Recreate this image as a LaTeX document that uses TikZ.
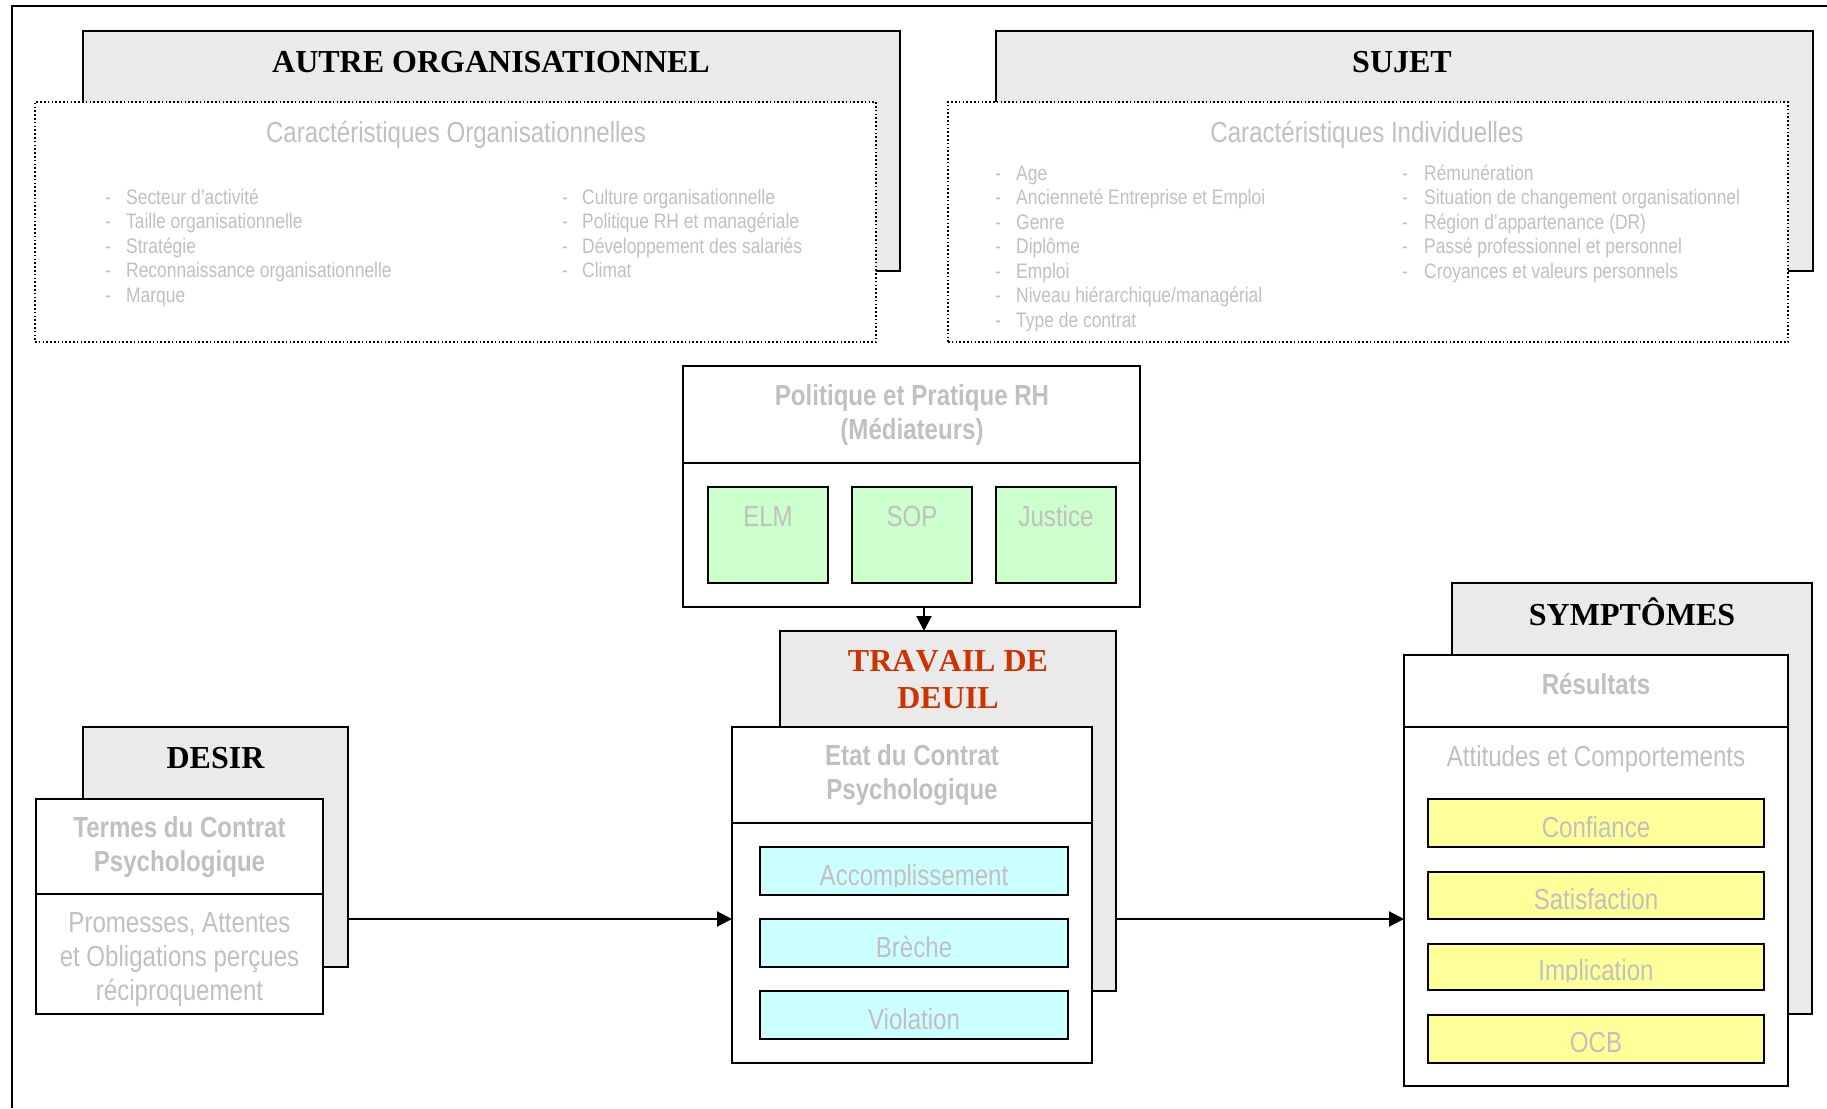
\documentclass[tikz,border=0pt]{standalone}
\usepackage{fontspec}
\setmainfont{Liberation Serif}
\newfontfamily\nar[FakeStretch=0.83]{Liberation Sans}
\usetikzlibrary{arrows.meta,fit}
\definecolor{txtgray}{RGB}{192,192,192}
\definecolor{boxgray}{RGB}{234,234,234}
\definecolor{grn}{RGB}{204,255,204}
\definecolor{cyn}{RGB}{204,255,255}
\definecolor{ylw}{RGB}{255,255,153}
\definecolor{deuil}{RGB}{204,51,0}
\begin{document}
\begin{tikzpicture}[x=1pt,y=-1pt,
  box/.style={draw=black,line width=2.2pt,inner sep=0pt,outer sep=0pt},
  graybox/.style={box,fill=boxgray},
  whitebox/.style={box,fill=white},
  dotbox/.style={draw=black,line width=1.5pt,dash pattern=on 1.6pt off 2.2pt,fill=white,inner sep=0pt,outer sep=0pt},
  sep/.style={draw=black,line width=2.2pt},
  arr/.style={draw=black,line width=2pt,-{Triangle[length=15pt,width=15pt]}},
  tt/.style={font=\bfseries\fontsize{32}{38}\selectfont,anchor=base,inner sep=0pt},
  gt/.style={text=txtgray,font=\nar\fontsize{29}{34}\selectfont,anchor=base,inner sep=0pt},
  gb/.style={text=txtgray,font=\nar\bfseries\fontsize{29}{34}\selectfont,anchor=base,inner sep=0pt},
  li/.style={text=txtgray,font=\nar\fontsize{21}{24.5}\selectfont,anchor=base west,inner sep=0pt}
]
\useasboundingbox (0,0) rectangle (1827,1108);
% outer frame
\coordinate (ftr) at (1827,6.5);
\coordinate (ftl) at (11.5,6.5);
\coordinate (fbl) at (11.5,1108);
\draw[line width=2pt] (ftr) -- (ftl) -- (fbl);

% ---------- AUTRE ORGANISATIONNEL ----------
\node[graybox,fit={(83,31)(900,271)}] (aog) {};
\node[dotbox,fit={(35,102)(876,342)}] (aod) {};
\node[tt] (aot) at (491,72) {AUTRE ORGANISATIONNEL};
\node[gt] (aos) at (456,142) {Caractéristiques Organisationnelles};
\node[li] (aoa1) at (105,204) {-};   \node[li] (aob1) at (126,204) {Secteur d’activité};
\node[li] (aoa2) at (105,228.5) {-}; \node[li] (aob2) at (126,228.5) {Taille organisationnelle};
\node[li] (aoa3) at (105,253) {-};   \node[li] (aob3) at (126,253) {Stratégie};
\node[li] (aoa4) at (105,277.5) {-}; \node[li] (aob4) at (126,277.5) {Reconnaissance organisationnelle};
\node[li] (aoa5) at (105,302) {-};   \node[li] (aob5) at (126,302) {Marque};
\node[li] (aoc1) at (562,204) {-};   \node[li] (aod1) at (582,204) {Culture organisationnelle};
\node[li] (aoc2) at (562,228.5) {-}; \node[li] (aod2) at (582,228.5) {Politique RH et managériale};
\node[li] (aoc3) at (562,253) {-};   \node[li] (aod3) at (582,253) {Développement des salariés};
\node[li] (aoc4) at (562,277.5) {-}; \node[li] (aod4) at (582,277.5) {Climat};

% ---------- SUJET ----------
\node[graybox,fit={(996,31)(1813,271)}] (sjg) {};
\node[dotbox,fit={(948,102)(1788,342)}] (sjd) {};
\node[tt] (sjt) at (1402,72) {SUJET};
\node[gt] (sjs) at (1367,142) {Caractéristiques Individuelles};
\node[li] (sja1) at (995,180) {-};   \node[li] (sjb1) at (1016,180) {Age};
\node[li] (sja2) at (995,204.5) {-}; \node[li] (sjb2) at (1016,204.5) {Ancienneté Entreprise et Emploi};
\node[li] (sja3) at (995,229) {-};   \node[li] (sjb3) at (1016,229) {Genre};
\node[li] (sja4) at (995,253.5) {-}; \node[li] (sjb4) at (1016,253.5) {Diplôme};
\node[li] (sja5) at (995,278) {-};   \node[li] (sjb5) at (1016,278) {Emploi};
\node[li] (sja6) at (995,302.5) {-}; \node[li] (sjb6) at (1016,302.5) {Niveau hiérarchique/managérial};
\node[li] (sja7) at (995,327) {-};   \node[li] (sjb7) at (1016,327) {Type de contrat};
\node[li] (sjc1) at (1402,180) {-};   \node[li] (sjd1) at (1424,180) {Rémunération};
\node[li] (sjc2) at (1402,204.5) {-}; \node[li] (sjd2) at (1424,204.5) {Situation de changement organisationnel};
\node[li] (sjc3) at (1402,229) {-};   \node[li] (sjd3) at (1424,229) {Région d’appartenance (DR)};
\node[li] (sjc4) at (1402,253.5) {-}; \node[li] (sjd4) at (1424,253.5) {Passé professionnel et personnel};
\node[li] (sjc5) at (1402,278) {-};   \node[li] (sjd5) at (1424,278) {Croyances et valeurs personnels};

% ---------- POLITIQUE ----------
\node[whitebox,fit={(683,366)(1140,607)}] (pol) {};
\coordinate (py) at (0,463);
\draw[sep] (pol.west |- py) -- (pol.east |- py);
\node[gb] (pol1) at (912,405) {Politique et Pratique RH};
\node[gb] (pol2) at (912,439) {(Médiateurs)};
\node[box,fill=grn,fit={(708,487)(828,583)}] (elm) {};
\node[box,fill=grn,fit={(852,487)(972,583)}] (sop) {};
\node[box,fill=grn,fit={(996,487)(1116,583)}] (jus) {};
\node[gt] (elmt) at (768,526) {ELM};
\node[gt] (sopt) at (912,526) {SOP};
\node[gt] (just) at (1056,526) {Justice};

% ---------- TRAVAIL DE DEUIL ----------
\node[graybox,fit={(780,631)(1116,991)}] (trg) {};
\node[tt,text=deuil] (tr1) at (948,671) {\addfontfeatures{Kerning=Off}TRAVAIL DE};
\node[tt,text=deuil] (tr2) at (948,708) {DEUIL};
\node[whitebox,fit={(732,727)(1092,1063)}] (etat) {};
\coordinate (ey) at (0,823);
\draw[sep] (etat.west |- ey) -- (etat.east |- ey);
\node[gb] (et1) at (912,765) {Etat du Contrat};
\node[gb] (et2) at (912,799) {Psychologique};
\node[box,fill=cyn,fit={(760,847)(1068,895)}] (acc) {};
\node[box,fill=cyn,fit={(760,919)(1068,967)}] (bre) {};
\node[box,fill=cyn,fit={(760,991)(1068,1039)}] (vio) {};
\begin{scope}
  \clip (760,847) rectangle (1068,886.5);
  \node[gt] (acct) at (914,885) {Accomplissement};
\end{scope}
\node[gt] (bret) at (914,957) {Brèche};
\node[gt] (viot) at (914,1029) {Violation};

% ---------- DESIR ----------
\node[graybox,fit={(83,727)(348,967)}] (desg) {};
\node[tt] (dest) at (215.5,768) {DESIR};
\node[whitebox,fit={(36,799)(323,1014)}] (ter) {};
\coordinate (dy) at (0,894);
\draw[sep] (ter.west |- dy) -- (ter.east |- dy);
\node[gb] (te1) at (179.5,837) {Termes du Contrat};
\node[gb] (te2) at (179.5,871) {Psychologique};
\node[gt] (te3) at (179.5,932) {Promesses, Attentes};
\node[gt] (te4) at (179.5,966) {et Obligations perçues};
\node[gt] (te5) at (179.5,1000) {réciproquement};

% ---------- SYMPTOMES ----------
\node[graybox,fit={(1452,583)(1812,1014)}] (syg) {};
\node[tt] (syt) at (1632,625) {SYMPTÔMES};
\node[whitebox,fit={(1404,655)(1788,1086)}] (res) {};
\coordinate (ry) at (0,727);
\draw[sep] (res.west |- ry) -- (res.east |- ry);
\node[gb] (rest) at (1596,694) {Résultats};
\node[gt] (att) at (1596,766) {Attitudes et Comportements};
\node[box,fill=ylw,fit={(1428,799)(1764,847)}] (con) {};
\node[box,fill=ylw,fit={(1428,872)(1764,919)}] (sat) {};
\node[box,fill=ylw,fit={(1428,944)(1764,990)}] (imp) {};
\node[box,fill=ylw,fit={(1428,1015)(1764,1063)}] (ocb) {};
\node[gt] (cont) at (1596,837.5) {Confiance};
\node[gt] (satt) at (1596,909) {Satisfaction};
\begin{scope}
  \clip (1428,944) rectangle (1764,981);
  \node[gt] (impt) at (1596,980) {Implication};
\end{scope}
\node[gt] (ocbt) at (1596,1052) {OCB};

% ---------- arrows ----------
\coordinate (ax) at (924,0);
\coordinate (ay) at (0,919);
\draw[arr] (pol.south -| ax) -- (trg.north -| ax);
\draw[arr] (desg.east |- ay) -- (etat.west |- ay);
\draw[arr] (trg.east |- ay) -- (res.west |- ay);
\end{tikzpicture}
\end{document}
